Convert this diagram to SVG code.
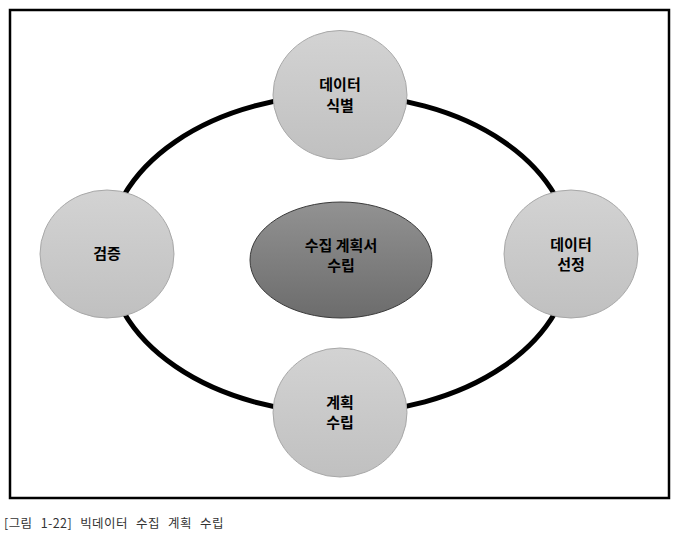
<svg xmlns="http://www.w3.org/2000/svg" width="686" height="543" viewBox="0 0 686 543">
<defs>
<linearGradient id="gLight" x1="0" y1="0" x2="0" y2="1">
<stop offset="0" stop-color="#d3d3d3"/>
<stop offset="1" stop-color="#c0c0c0"/>
</linearGradient>
<linearGradient id="gDark" x1="0" y1="0" x2="0" y2="1">
<stop offset="0" stop-color="#929292"/>
<stop offset="1" stop-color="#6c6c6c"/>
</linearGradient>
<style>
.node{fill:url(#gLight);stroke:#a8a8a8;stroke-width:1}
.center{fill:url(#gDark);stroke:#3a3a3a;stroke-width:1}
.lbl{font-family:"Noto Sans CJK KR","Noto Sans",sans-serif;font-weight:bold;font-size:15px;fill:#000;text-anchor:middle}
.ring{fill:none;stroke:#000;stroke-width:5}
.cap{font-family:"Noto Sans CJK KR","Liberation Sans",sans-serif;font-size:12.5px;fill:#333;word-spacing:5px;letter-spacing:0.4px}
</style>
</defs>
<rect width="686" height="543" fill="#fff"/>
<rect x="10" y="10" width="659" height="488" fill="none" stroke="#000" stroke-width="2.5"/>
<g id="connectors">
<path class="ring" d="M339.5,95 A232,159 0 0 1 571.5,254"/>
<path class="ring" d="M571.5,254 A232,159 0 0 1 339.5,413"/>
<path class="ring" d="M339.5,413 A232,159 0 0 1 107.5,254"/>
<path class="ring" d="M107.5,254 A232,159 0 0 1 339.5,95"/>
</g>
<g id="node-center">
<ellipse class="center" cx="341" cy="260" rx="91" ry="58"/>
<text class="lbl" x="341" y="251">수집 계획서</text>
<text class="lbl" x="341" y="271">수립</text>
</g>
<g id="node-top">
<ellipse class="node" cx="340" cy="95" rx="67" ry="64.5"/>
<text class="lbl" x="340" y="90">데이터</text>
<text class="lbl" x="340" y="111">식별</text>
</g>
<g id="node-right">
<ellipse class="node" cx="571" cy="254" rx="67" ry="64"/>
<text class="lbl" x="571" y="250">데이터</text>
<text class="lbl" x="571" y="270">선정</text>
</g>
<g id="node-bottom">
<ellipse class="node" cx="340" cy="412.5" rx="67" ry="64.5"/>
<text class="lbl" x="340" y="408">계획</text>
<text class="lbl" x="340" y="428">수립</text>
</g>
<g id="node-left">
<ellipse class="node" cx="107" cy="254" rx="67" ry="64"/>
<text class="lbl" x="107" y="259">검증</text>
</g>
<text class="cap" x="4" y="528">[그림 1-22] 빅데이터 수집 계획 수립</text>
</svg>
